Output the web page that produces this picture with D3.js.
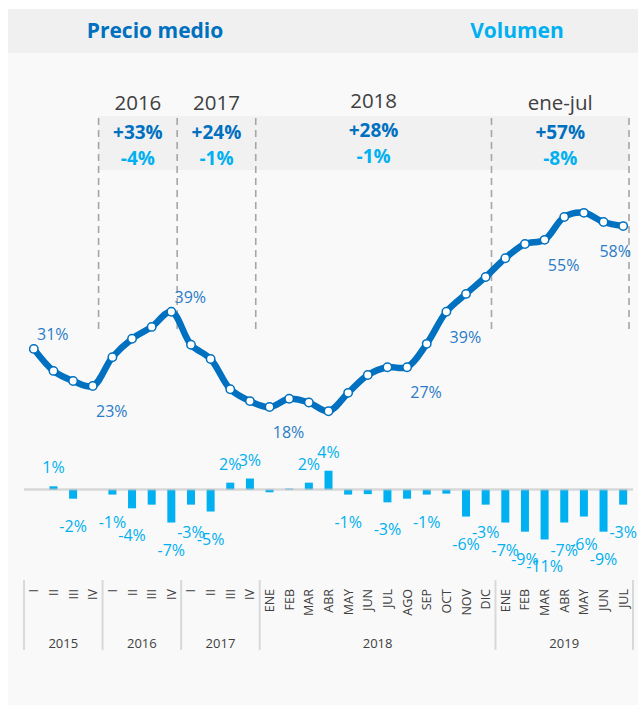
<!DOCTYPE html>
<html>
<head>
<meta charset="utf-8">
<script src="https://cdn.jsdelivr.net/npm/d3@7"></script>
<style>
body{margin:0;background:#fff;font-family:"Open Sans",sans-serif;}
</style>
</head>
<body>
<div id="chart"></div>
<script>
//data
var periods = ["I","II","III","IV","I","II","III","IV","I","II","III","IV",
  "ENE","FEB","MAR","ABR","MAY","JUN","JUL","AGO","SEP","OCT","NOV","DIC",
  "ENE","FEB","MAR","ABR","MAY","JUN","JUL"];
var years = ["2015","2016","2017","2018","2019"];
var yearCounts = [4,4,4,12,7];

var precio = [30.7,25.9,23.7,22.6,28.9,32.9,35.5,38.8,31.6,28.5,21.9,19.3,
  18.0,19.8,19.0,17.1,21.1,25.0,26.7,26.7,31.8,38.8,42.7,46.4,
  50.5,53.6,54.5,59.5,60.4,58.4,57.5];
var precioLabels = ["31%","","","23%","","","","39%","","","","",
  "18%","","","","","","","27%","","39%","","",
  "","","55%","","","","58%"];

var volumen = [null,0.7,-2.0,null,-1.1,-4.1,-3.3,-7.2,-3.3,-4.8,1.5,2.4,
  -0.6,0.2,1.5,4.1,-1.1,-1.0,-2.8,-2.0,-1.1,-0.9,-5.9,-3.3,
  -7.2,-9.2,-10.9,-7.2,-5.9,-9.2,-3.3];
var volumenLabels = ["","1%","-2%","","-1%","-4%","","-7%","-3%","-5%","2%","3%",
  "","","2%","4%","-1%","","-3%","","-1%","","-6%","-3%",
  "-7%","-9%","-11%","-7%","-6%","-9%","-3%"];

var tramos = ["2016","2017","2018","ene-jul"];
var precioChg = ["+33%","+24%","+28%","+57%"];
var volumenChg = ["-4%","-1%","-1%","-8%"];
var tramoStart = [4,8,12,24,31];

var azul = '#0070c0', celeste = '#00b0f0', gris = '#404040';

var svg = d3.select('#chart').append('svg')
    .attr('width',638)
    .attr('height',705);

//background panel and header
svg.append('rect').attr('x',8).attr('y',9).attr('width',630).attr('height',696).attr('fill','#f9f9f9');
svg.append('rect').attr('x',8).attr('y',9).attr('width',630).attr('height',44).attr('fill','#f0f0f0');
svg.append('text').attr('x',155).attr('y',38).attr('text-anchor','middle')
    .attr('font-size',21).attr('font-weight','bold').attr('fill',azul).text('Precio medio');
svg.append('text').attr('x',517).attr('y',38).attr('text-anchor','middle')
    .attr('font-size',21).attr('font-weight','bold').attr('fill',celeste).text('Volumen');

//scales
var x = d3.scaleBand().domain(d3.range(periods.length)).range([24,633]);
var bw = x.bandwidth();
function cx(i){ return x(i) + bw/2; }
function edge(k){ return x.range()[0] + k*bw; }
var y = d3.scaleLinear().domain([-12,62]).range([544.5,205.5]);

//summary band per period
var dashX = tramoStart.map(function(k){ return edge(k) - 4; });
svg.append('rect').attr('x',dashX[0]).attr('y',116)
    .attr('width',dashX[dashX.length-1]-dashX[0]).attr('height',54).attr('fill','#f1f1f1');

svg.selectAll('.dash').data(dashX).enter().append('line')
    .attr('class','dash')
    .attr('x1',function(d){return d;}).attr('x2',function(d){return d;})
    .attr('y1',118).attr('y2',330)
    .attr('stroke','#a6a6a6').attr('stroke-width',1.6).attr('stroke-dasharray','7,5');

var tramo = svg.selectAll('.tramo').data(tramos).enter().append('g')
    .attr('class','tramo')
    .attr('transform',function(d,i){ return 'translate(' + (dashX[i]+dashX[i+1])/2 + ',0)'; });
tramo.append('text').attr('y',function(d){ return d=='2018' ? 108 : 110; }).attr('text-anchor','middle')
    .attr('font-size',20.5).attr('fill',gris).text(String);
tramo.append('text').attr('y',function(d){ return d=='2018' ? 137 : 139; }).attr('text-anchor','middle')
    .attr('font-size',19).attr('font-weight','bold').attr('fill',azul)
    .text(function(d,i){ return precioChg[i]; });
tramo.append('text').attr('y',function(d){ return d=='2018' ? 163 : 165; }).attr('text-anchor','middle')
    .attr('font-size',19).attr('font-weight','bold').attr('fill',celeste)
    .text(function(d,i){ return volumenChg[i]; });

//volume bars
var barW = 8;
volumen.forEach(function(v,i){
  if(v === null) return;
  svg.append('rect').attr('class','bar')
      .attr('x',cx(i)-barW/2).attr('width',barW)
      .attr('y',Math.min(y(v),y(0))).attr('height',Math.abs(y(v)-y(0)))
      .attr('fill',celeste);
});

//zero line on top of bars
svg.append('line').attr('x1',x.range()[0]).attr('x2',x.range()[1])
    .attr('y1',y(0)).attr('y2',y(0))
    .attr('stroke','#bdbdbd').attr('stroke-opacity',0.55).attr('stroke-width',2.5);

svg.selectAll('.vlabel').data(volumenLabels).enter().append('text')
    .attr('class','vlabel')
    .attr('x',function(d,i){ return cx(i); })
    .attr('y',function(d,i){ return volumen[i] >= 0 ? y(volumen[i]) - 13 : y(volumen[i]) + 33; })
    .attr('text-anchor','middle').attr('font-size',16).attr('fill',celeste)
    .text(String);

//price line
var line = d3.line()
    .x(function(d,i){ return cx(i); })
    .y(function(d){ return y(d); })
    .curve(d3.curveCatmullRom.alpha(0.5));

svg.append('path').datum(precio)
    .attr('d',line).attr('fill','none')
    .attr('stroke',azul).attr('stroke-width',6.5).attr('stroke-linejoin','round');

svg.selectAll('.dot').data(precio).enter().append('circle')
    .attr('class','dot')
    .attr('cx',function(d,i){ return cx(i); })
    .attr('cy',function(d){ return y(d); })
    .attr('r',4.2).attr('fill','#fff').attr('stroke',azul).attr('stroke-width',1.5);

function arriba(i){
  if(i === 0) return true;
  return i < precio.length-1 && precio[i] > precio[i-1] && precio[i] > precio[i+1];
}
svg.selectAll('.plabel').data(precioLabels).enter().append('text')
    .attr('class','plabel')
    .attr('x',function(d,i){ return cx(i) + (i == precio.length-1 ? -8 : 19); })
    .attr('y',function(d,i){ return y(precio[i]) + (arriba(i) ? -9 : 31); })
    .attr('text-anchor','middle').attr('font-size',16).attr('fill','#2a7cc8')
    .text(String);

//category axis: periods and years
var axisTop = 580, axisBottom = 650;
var ends = [0];
yearCounts.forEach(function(n,i){ ends.push(ends[i] + n); });

svg.selectAll('.sep').data(ends).enter().append('line')
    .attr('class','sep')
    .attr('x1',function(d){ return edge(d); }).attr('x2',function(d){ return edge(d); })
    .attr('y1',axisTop).attr('y2',axisBottom)
    .attr('stroke','#d9d9d9').attr('stroke-width',2);

svg.selectAll('.per').data(periods).enter().append('text')
    .attr('class','per')
    .attr('transform',function(d,i){ return 'translate(' + (cx(i)+4.5) + ',589) rotate(-90)'; })
    .attr('text-anchor','end').attr('font-size',12.5).attr('fill',gris)
    .text(String);

svg.selectAll('.yr').data(years).enter().append('text')
    .attr('class','yr')
    .attr('x',function(d,i){ return (edge(ends[i]) + edge(ends[i+1]))/2; })
    .attr('y',648).attr('text-anchor','middle').attr('font-size',13).attr('fill',gris)
    .text(String);
</script>
</body>
</html>
